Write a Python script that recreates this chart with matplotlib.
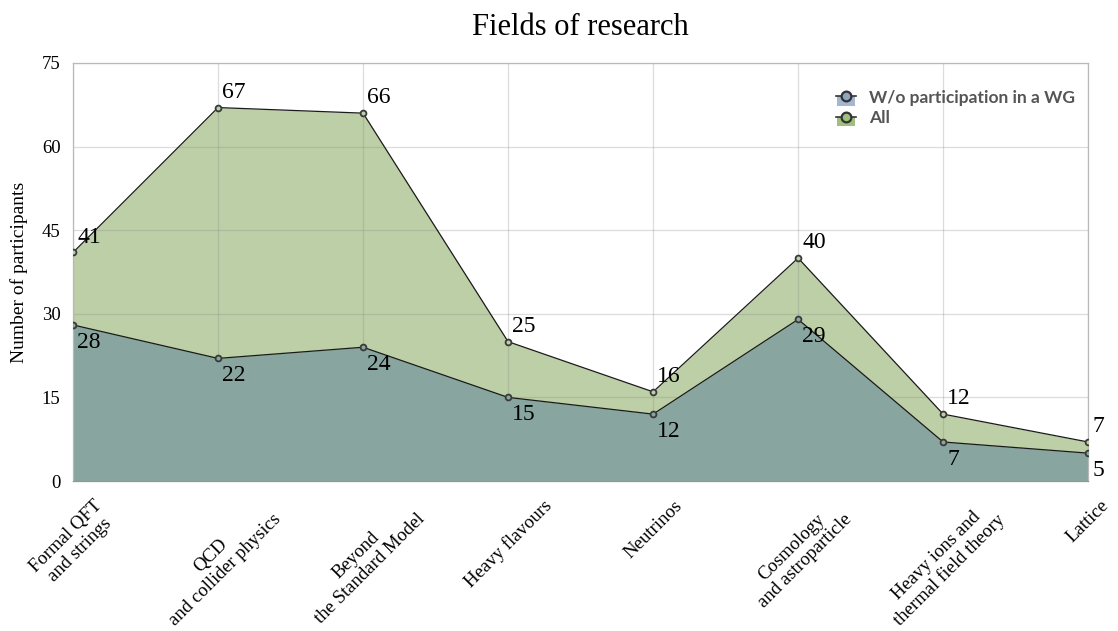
import matplotlib
matplotlib.use("Agg")
import matplotlib.pyplot as plt
from matplotlib.lines import Line2D
from matplotlib.patches import Patch, Rectangle
from matplotlib.legend_handler import HandlerTuple, HandlerPatch
from matplotlib.transforms import offset_copy
import numpy as np

fields = [
    "Formal QFT\nand strings",
    "QCD\nand collider physics",
    "Beyond\nthe Standard Model",
    "Heavy flavours",
    "Neutrinos",
    "Cosmology\nand astroparticle",
    "Heavy ions and\nthermal field theory",
    "Lattice",
]
all_participants = [41, 67, 66, 25, 16, 40, 12, 7]
without_wg = [28, 22, 24, 15, 12, 29, 7, 5]

GREEN = "#bdcfa6"
TEAL = "#89a59f"
SERIF = "Liberation Serif"

fig = plt.figure(figsize=(11.18, 6.31), dpi=100)
ax = fig.add_axes([0.0653, 0.2377, 0.908, 0.6625])

x = np.arange(len(fields))

# filled areas, "All" behind, "W/o" in front
ax.fill_between(x, 0, all_participants, color=GREEN, lw=0, zorder=1)
ax.fill_between(x, 0, without_wg, color=TEAL, lw=0, zorder=2)
ax.plot(x, all_participants, color="#1a1a1a", lw=0.9, marker="o", ms=4.2,
        mfc=GREEN, mec="#3a3a3a", mew=1.3, zorder=4)
ax.plot(x, without_wg, color="#1a1a1a", lw=0.9, marker="o", ms=4.2,
        mfc=TEAL, mec="#3a3a3a", mew=1.3, zorder=4)

# value labels
for xi, v in zip(x, all_participants):
    ax.annotate(str(v), (xi, v), xytext=(3, 3.5), textcoords="offset points",
                ha="left", va="bottom", fontsize=17, family=SERIF, zorder=5,
                annotation_clip=False)
for xi, v in zip(x, without_wg):
    ax.annotate(str(v), (xi, v), xytext=(3, -5), textcoords="offset points",
                ha="left", va="top", fontsize=17, family=SERIF, zorder=5,
                annotation_clip=False)

ax.set_xlim(0, len(fields) - 1)
ax.set_ylim(0, 75)
ax.set_yticks(np.arange(0, 76, 15))
ax.set_xticks(x)
ax.set_xticklabels([])
ax.grid(True, color=(0.55, 0.55, 0.55), alpha=0.3, lw=0.9, zorder=3)
ax.tick_params(axis="both", length=0)
ax.tick_params(axis="y", pad=9, labelsize=13.5)
for lbl in ax.get_yticklabels():
    lbl.set_family(SERIF)
for sp in ax.spines.values():
    sp.set_color("#b8b8b8")
    sp.set_linewidth(0.9)
ax.spines["bottom"].set_color("#8a9c98")

# rotated category labels, centred under each tick
tr = offset_copy(ax.get_xaxis_transform(), fig=fig, x=0, y=-11.5,
                 units="points")
for xi, name in zip(x, fields):
    ax.text(xi, 0, name, transform=tr, rotation=45, ha="center", va="top",
            multialignment="center", fontsize=13.5, family=SERIF,
            linespacing=1.15)

ax.set_ylabel("Number of participants", family=SERIF, fontsize=14, labelpad=10)
ax.set_title("Fields of research", family=SERIF, fontsize=22, pad=20)


def lower_box(legend, orig_handle, xdescent, ydescent, width, height, fontsize):
    # small swatch under the marker
    w = height * 1.5
    return Rectangle((width / 2 - w / 2 - xdescent, -ydescent - height * 0.25),
                     w, height * 0.75)


handles = [
    (Patch(facecolor="#a3b8d0", edgecolor="none"),
     Line2D([], [], color="#333333", lw=1.2, marker="o", ms=7,
            mfc="#8fa6c2", mec="#333333", mew=1.6)),
    (Patch(facecolor="#9fbf7f", edgecolor="none"),
     Line2D([], [], color="#333333", lw=1.2, marker="o", ms=7,
            mfc="#9fbf7f", mec="#333333", mew=1.6)),
]
ax.legend(handles, ["W/o participation in a WG", "All"],
          handler_map={tuple: HandlerTuple(ndivide=1, pad=0),
                       Patch: HandlerPatch(patch_func=lower_box)},
          loc="upper right", bbox_to_anchor=(0.9935, 0.953), borderaxespad=0,
          frameon=False, handlelength=1.2, handletextpad=0.7,
          labelspacing=0.25, prop={"family": "Lato", "weight": "bold",
                                   "size": 12.5},
          labelcolor="#555555")

fig.savefig("out.png", dpi=100)
